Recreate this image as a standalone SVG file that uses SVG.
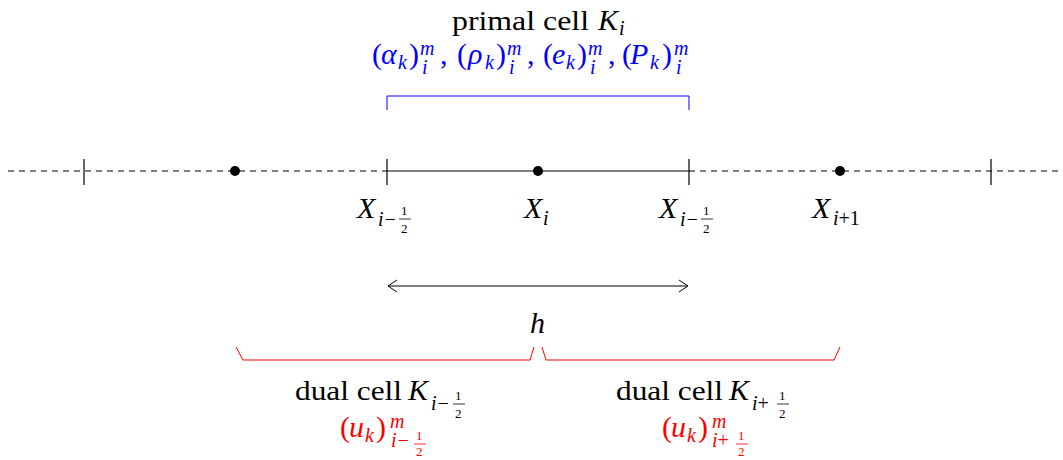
<svg xmlns="http://www.w3.org/2000/svg" width="1063" height="460" viewBox="0 0 1063 460">
<style>
text{font-family:"Liberation Serif","Times New Roman",serif;font-size:28px;fill:#000}
.it{font-style:italic}
.mt{font-size:30px}
.sb{font-size:20px}
.fr{font-size:13px}
.blue{fill:#0000ff}
.red{fill:#ff0000}
.ln{stroke:#000;stroke-width:1;fill:none}
.dash{stroke:#000;stroke-width:1;stroke-dasharray:6,5;fill:none}
.tick{stroke:#000;stroke-width:1.2}
.bar{stroke-width:0.8}
</style>
<defs>
<marker id="oh" markerWidth="12" markerHeight="14" refX="10" refY="7" orient="auto-start-reverse" markerUnits="userSpaceOnUse">
<path d="M1,1 L10,7 L1,13" fill="none" stroke="#000" stroke-width="1"/>
</marker>
</defs>
<g id="connectors">
<path class="dash" d="M8,171 H387"/>
<path class="ln" d="M387,171 H689"/>
<path class="dash" d="M689,171 H1063"/>
<path class="ln" d="M388,286 H688" marker-start="url(#oh)" marker-end="url(#oh)"/>
</g>
<g id="ticks">
<line class="tick" x1="84" y1="159" x2="84" y2="185"/>
<line class="tick" x1="387" y1="159" x2="387" y2="185"/>
<line class="tick" x1="689" y1="159" x2="689" y2="185"/>
<line class="tick" x1="991" y1="159" x2="991" y2="185"/>
</g>
<g id="points">
<circle cx="235" cy="171" r="5"/>
<circle cx="538" cy="171" r="5"/>
<circle cx="840" cy="171" r="5"/>
</g>
<g id="label-left-face">
<text class="it mt" x="357" y="218">X</text>
<text class="it sb" x="378" y="226">i−</text>
<text class="fr" x="401" y="215">1</text>
<line class="ln bar" x1="399" y1="219" x2="411" y2="219"/>
<text class="fr" x="401" y="233">2</text>
</g>
<g id="label-center">
<text class="it mt" x="524" y="218">X</text>
<text class="it sb" x="543" y="225">i</text>
</g>
<g id="label-right-face">
<text class="it mt" x="659" y="218">X</text>
<text class="it sb" x="680" y="226">i−</text>
<text class="fr" x="703" y="215">1</text>
<line class="ln bar" x1="701" y1="219" x2="713" y2="219"/>
<text class="fr" x="703" y="233">2</text>
</g>
<g id="label-next">
<text class="it mt" x="812" y="218">X</text>
<text class="sb" x="833" y="225"><tspan class="it">i</tspan>+1</text>
</g>
<g id="primal-cell">
<text x="452" y="30" textLength="137" lengthAdjust="spacingAndGlyphs">primal cell</text>
<text class="it mt" x="598" y="30">K</text>
<text class="it sb" x="619" y="35">i</text>
<text class="blue mt">
<tspan x="372" y="64">(</tspan><tspan class="it" x="381" y="64">α</tspan><tspan class="it sb" x="398" y="69">k</tspan><tspan x="409" y="64">)</tspan><tspan class="it sb" x="420" y="55">m</tspan><tspan class="it sb" x="422" y="74">i</tspan><tspan x="440" y="64">,</tspan>
<tspan x="457" y="64">(</tspan><tspan class="it" x="468" y="64">ρ</tspan><tspan class="it sb" x="485" y="69">k</tspan><tspan x="496" y="64">)</tspan><tspan class="it sb" x="507" y="55">m</tspan><tspan class="it sb" x="509" y="74">i</tspan><tspan x="527" y="64">,</tspan>
<tspan x="543" y="64">(</tspan><tspan class="it" x="552" y="64">e</tspan><tspan class="it sb" x="566" y="69">k</tspan><tspan x="577" y="64">)</tspan><tspan class="it sb" x="588" y="55">m</tspan><tspan class="it sb" x="590" y="74">i</tspan><tspan x="608" y="64">,</tspan>
<tspan x="622" y="64">(</tspan><tspan class="it" x="630" y="64">P</tspan><tspan class="it sb" x="650" y="69">k</tspan><tspan x="662" y="64">)</tspan><tspan class="it sb" x="674" y="55">m</tspan><tspan class="it sb" x="676" y="74">i</tspan>
</text>
<path d="M387,110 V96 H689 V110" fill="none" stroke="#0000ff" stroke-width="1"/>
</g>
<g id="cell-size">
<text class="it mt" x="530" y="333">h</text>
</g>
<g id="dual-left">
<path d="M236,347 L243,360 H530 L534,347" fill="none" stroke="#ff0000" stroke-width="1"/>
<text x="295" y="400" textLength="107" lengthAdjust="spacingAndGlyphs">dual cell</text>
<text class="it mt" x="408" y="400">K</text>
<text class="it sb" x="431" y="410">i−</text>
<text class="fr" x="455" y="400">1</text>
<line class="bar" x1="453" y1="404" x2="465" y2="404" stroke="#000"/>
<text class="fr" x="455" y="418">2</text>
<text class="red mt">
<tspan x="340" y="437">(</tspan><tspan class="it" x="349" y="437">u</tspan><tspan class="it sb" x="365" y="442">k</tspan><tspan x="376" y="437">)</tspan><tspan class="it sb" x="390" y="428">m</tspan><tspan class="it sb" x="391" y="447">i−</tspan>
</text>
<text class="red fr" x="416" y="440">1</text>
<line class="bar" x1="414" y1="444" x2="426" y2="444" stroke="#ff0000"/>
<text class="red fr" x="416" y="456">2</text>
</g>
<g id="dual-right">
<path d="M542,347 L546,360 H834 L840,347" fill="none" stroke="#ff0000" stroke-width="1"/>
<text x="616" y="400" textLength="107" lengthAdjust="spacingAndGlyphs">dual cell</text>
<text class="it mt" x="729" y="400">K</text>
<text class="sb" x="752" y="410"><tspan class="it">i</tspan>+</text>
<text class="fr" x="779" y="400">1</text>
<line class="bar" x1="777" y1="404" x2="789" y2="404" stroke="#000"/>
<text class="fr" x="779" y="418">2</text>
<text class="red mt">
<tspan x="662" y="437">(</tspan><tspan class="it" x="671" y="437">u</tspan><tspan class="it sb" x="687" y="442">k</tspan><tspan x="698" y="437">)</tspan><tspan class="it sb" x="712" y="428">m</tspan><tspan class="sb" x="712" y="447"><tspan class="it">i</tspan>+</tspan>
</text>
<text class="red fr" x="738" y="440">1</text>
<line class="bar" x1="736" y1="444" x2="748" y2="444" stroke="#ff0000"/>
<text class="red fr" x="738" y="456">2</text>
</g>
</svg>
